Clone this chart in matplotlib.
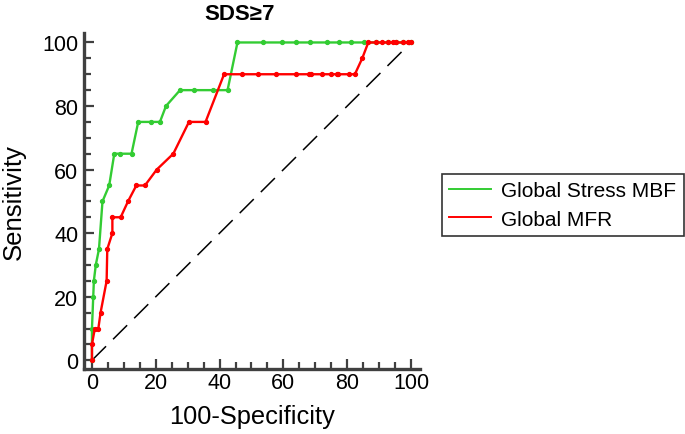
import matplotlib
matplotlib.use("Agg")
import matplotlib.pyplot as plt


# -----------------------------
# Data
# -----------------------------
TITLE = "SDS\u22657"

mbf_x = [0, 0, 0.4, 0.6, 1.2, 2.2, 3.3, 5.4, 7.0, 8.8, 12.4, 14.5, 18.4,
         21.3, 23.2, 27.6, 32.0, 38.0, 42.5, 45.6, 53.5, 59.5, 63.9, 68.4,
         73.6, 77.3, 81.2, 85.3, 89.0, 92.7, 95.2, 97.6, 100]
mbf_y = [0, 10, 20, 25, 30, 35, 50, 55, 65, 65, 65, 75, 75,
         75, 80, 85, 85, 85, 85, 100, 100, 100, 100, 100,
         100, 100, 100, 100, 100, 100, 100, 100, 100]

mfr_x = [0, 0, 0.9, 2.0, 2.7, 4.6, 4.8, 6.4, 6.4, 9.0, 11.3, 13.9, 16.6,
         20.3, 25.5, 30.4, 35.6, 41.4, 46.9, 52.1, 57.6, 63.9, 68.0, 68.7,
         72.0, 74.9, 76.7, 77.2, 80.6, 82.4, 84.7, 86.6, 89.0, 90.8, 92.7,
         94.4, 95.2, 97.6, 99.2, 100]
mfr_y = [0, 5, 10, 10, 15, 25, 35, 40, 45, 45, 50, 55, 55,
         60, 65, 75, 75, 90, 90, 90, 90, 90, 90, 90,
         90, 90, 90, 90, 90, 90, 95, 100, 100, 100, 100,
         100, 100, 100, 100, 100]

x_ticks = [0, 20, 40, 60, 80, 100]
y_ticks = [0, 20, 40, 60, 80, 100]

GREEN = "#33cc33"
RED = "#ff0000"
SPINE = "#404040"

plt.rcParams["font.family"] = ["Liberation Sans", "DejaVu Sans"]

# -----------------------------
# Plotting
# -----------------------------
fig = plt.figure(figsize=(6.85, 4.35), dpi=100)
ax = fig.add_axes([0.1226, 0.149, 0.4905, 0.773])

ax.plot([0, 100], [0, 100], color="black", lw=1.1, dashes=(13, 6.5))
ax.plot(mbf_x, mbf_y, color=GREEN, lw=1.7, marker="o", ms=2.8,
        label="Global Stress MBF")
ax.plot(mfr_x, mfr_y, color=RED, lw=1.7, marker="o", ms=2.8,
        label="Global MFR")

ax.set_xlim(-2.5, 102.8)
ax.set_ylim(-2.8, 103)
ax.set_xticks(x_ticks)
ax.set_yticks(y_ticks)
ax.set_xticks(range(0, 101, 5), minor=True)
ax.set_yticks(range(0, 101, 5), minor=True)

for side in ["top", "right"]:
    ax.spines[side].set_visible(False)
for side in ["left", "bottom"]:
    ax.spines[side].set_linewidth(2.4)
    ax.spines[side].set_color(SPINE)

ax.tick_params(which="major", direction="in", length=7, width=1.6,
               color=SPINE, labelsize=15.5)
ax.tick_params(which="minor", direction="in", length=5, width=1.6,
               color=SPINE)
ax.tick_params(axis="x", which="major", pad=2)
ax.tick_params(axis="y", which="major", pad=4)

fig.text(240 / 685, 1 - 14 / 435, TITLE, fontsize=16, fontweight="bold",
         ha="center", va="center")
ax.set_xlabel("100-Specificity", fontsize=18.3, labelpad=8)
ax.set_ylabel("Sensitivity", fontsize=18.5, labelpad=12)

leg = ax.legend(loc="upper left", bbox_to_anchor=(442 / 685, 1 - 175 / 435),
                bbox_transform=fig.transFigure, fontsize=15,
                fancybox=False, edgecolor="#333333", handlelength=2.0,
                borderpad=0.35, labelspacing=0.45, handletextpad=0.5,
                borderaxespad=0, framealpha=1)
leg.get_frame().set_linewidth(1.2)
for h in leg.get_lines():
    h.set_marker("")
    h.set_linewidth(1.4)

fig.savefig("out.png", dpi=100)
